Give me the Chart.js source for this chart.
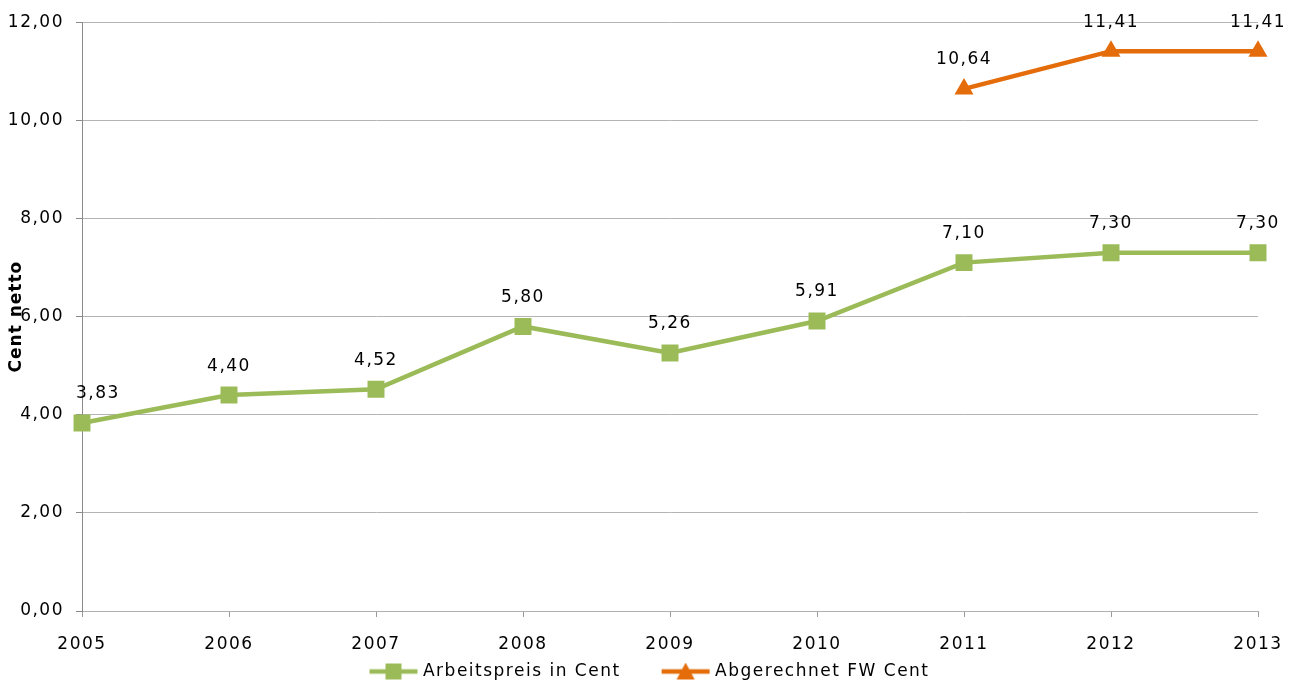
<!DOCTYPE html>
<html>
<head>
<meta charset="utf-8">
<script src="https://cdn.jsdelivr.net/npm/chart.js@4"></script>
<style>
html, body { margin: 0; padding: 0; background: #fff; }
#wrap { width: 1297px; height: 682px; }
</style>
</head>
<body>
<div id="wrap"><canvas id="chart"></canvas></div>
<script>
// Data
const years = ['2005', '2006', '2007', '2008', '2009', '2010', '2011', '2012', '2013'];
const arbeitspreis = [3.83, 4.40, 4.52, 5.80, 5.26, 5.91, 7.10, 7.30, 7.30];
const abgerechnet = [null, null, null, null, null, null, 10.64, 11.41, 11.41];
const yTicks = [0, 2, 4, 6, 8, 10, 12];

const GREEN = '#9bbb59';
const ORANGE = '#e46c0a';
const FONT = '"DejaVu Sans", sans-serif';
const SPACING = '1.5px';

const fmt = (v) => v.toFixed(2).replace('.', ',');

// Legend symbol: short line with the marker in the middle
function legendIcon(color, shape) {
const cv = document.createElement('canvas');
cv.width = 50;
cv.height = 18;
const c = cv.getContext('2d');
c.strokeStyle = color;
c.lineWidth = 4.5;
c.beginPath();
c.moveTo(1, 9);
c.lineTo(49, 9);
c.stroke();
c.fillStyle = color;
if (shape === 'rect') {
c.fillRect(17, 1, 16, 16);
} else {
c.beginPath();
c.moveTo(25, 0);
c.lineTo(34, 17);
c.lineTo(16, 17);
c.closePath();
c.fill();
}
return cv;
}
const icons = [legendIcon(GREEN, 'rect'), legendIcon(ORANGE, 'triangle')];

const spacingPlugin = {
id: 'spacing',
beforeUpdate(chart) { chart.ctx.letterSpacing = SPACING; },
beforeDraw(chart) { chart.ctx.letterSpacing = SPACING; },
// legend padding also sets the gap between items, so pull the box back into place
afterLayout(chart) {
const lg = chart.legend;
if (!lg) return;
lg.top -= 36;
lg.bottom -= 36;
lg.left += 22;
lg.right += 22;
}
};

// Value labels above each point, plus the y axis title
const labelsPlugin = {
id: 'valueLabels',
afterDatasetsDraw(chart) {
const c = chart.ctx;
const area = chart.chartArea;
c.save();
c.letterSpacing = SPACING;
c.font = '17px ' + FONT;
c.fillStyle = '#000';
c.textAlign = 'center';
c.textBaseline = 'middle';
chart.data.datasets.forEach((ds, di) => {
chart.getDatasetMeta(di).data.forEach((pt, i) => {
const v = ds.data[i];
if (v === null || v === undefined) return;
const txt = fmt(v);
const w = c.measureText(txt).width;
const x = Math.max(pt.x, area.left - 6 + w / 2);
c.fillText(txt, x, pt.y - 29);
});
});
c.restore();

c.save();
c.letterSpacing = '1px';
c.font = 'bold 17px ' + FONT;
c.fillStyle = '#000';
c.textAlign = 'center';
c.textBaseline = 'middle';
c.translate(17, (area.top + area.bottom) / 2);
c.rotate(-Math.PI / 2);
c.fillText('Cent netto', 0, 0);
c.restore();
}
};

new Chart(document.getElementById('chart'), {
type: 'line',
data: {
labels: years,
datasets: [
{
label: 'Arbeitspreis in Cent',
data: arbeitspreis,
borderColor: GREEN,
backgroundColor: GREEN,
borderWidth: 4.5,
pointStyle: 'rect',
pointRadius: 12,
pointBorderWidth: 0,
tension: 0
},
{
label: 'Abgerechnet FW Cent',
data: abgerechnet,
borderColor: ORANGE,
backgroundColor: ORANGE,
borderWidth: 4.5,
pointStyle: 'triangle',
pointRadius: 11,
pointBorderWidth: 0,
tension: 0
}
]
},
options: {
responsive: true,
maintainAspectRatio: false,
animation: false,
events: [],
layout: { padding: { top: 18, right: 39, left: 0, bottom: -44 } },
plugins: {
legend: {
position: 'bottom',
labels: {
usePointStyle: true,
pointStyleWidth: 42,
color: '#000',
font: { family: FONT, size: 17 },
padding: 44,
generateLabels(chart) {
const items = Chart.defaults.plugins.legend.labels.generateLabels(chart);
items.forEach((it, i) => { it.pointStyle = icons[i]; });
return items;
}
}
},
tooltip: { enabled: false }
},
scales: {
x: {
offset: false,
grid: {
drawOnChartArea: false,
drawTicks: true,
tickLength: 6,
color: '#9a9a9a'
},
border: { color: '#b0b0b0' },
ticks: {
color: '#000',
font: { family: FONT, size: 17 },
padding: 17,
maxRotation: 0
},
afterFit(scale) {
scale.height = 44;
scale.paddingLeft = 0;
scale.paddingRight = 0;
}
},
y: {
min: 0,
max: 12,
afterBuildTicks(scale) {
scale.ticks = yTicks.map((v) => ({ value: v }));
},
grid: {
color: '#b4b4b4',
tickLength: 6,
tickColor: '#8a8a8a'
},
border: { color: '#8a8a8a' },
ticks: {
color: '#000',
font: { family: FONT, size: 17 },
padding: 12,
callback: (v) => fmt(v)
},
afterFit(scale) { scale.width = 82; }
}
}
},
plugins: [spacingPlugin, labelsPlugin]
});
</script>
</body>
</html>
